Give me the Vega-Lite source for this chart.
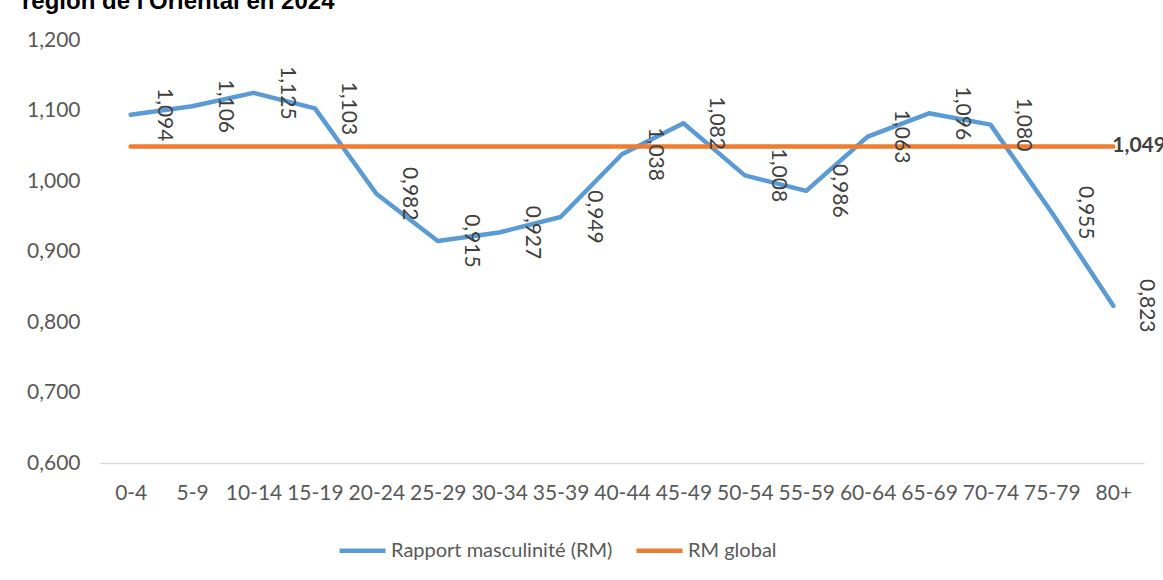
{
  "$schema": "https://vega.github.io/schema/vega-lite/v6.json",
  "width": 1044,
  "height": 423,
  "autosize": {"type": "none"},
  "padding": {"left": 100, "top": 40, "right": 19, "bottom": 117},
  "title": {
    "text": "région de l'Oriental en 2024",
    "anchor": "start",
    "frame": "group",
    "dx": -78,
    "offset": -4,
    "baseline": "alphabetic",
    "font": "Liberation Sans",
    "fontSize": 24,
    "fontWeight": "bold",
    "color": "#000000"
  },
  "data": {
    "values": [
      {"age": "0-4", "serie": "Rapport masculinité (RM)", "value": 1.094},
      {"age": "5-9", "serie": "Rapport masculinité (RM)", "value": 1.106},
      {"age": "10-14", "serie": "Rapport masculinité (RM)", "value": 1.125},
      {"age": "15-19", "serie": "Rapport masculinité (RM)", "value": 1.103},
      {"age": "20-24", "serie": "Rapport masculinité (RM)", "value": 0.982},
      {"age": "25-29", "serie": "Rapport masculinité (RM)", "value": 0.915},
      {"age": "30-34", "serie": "Rapport masculinité (RM)", "value": 0.927},
      {"age": "35-39", "serie": "Rapport masculinité (RM)", "value": 0.949},
      {"age": "40-44", "serie": "Rapport masculinité (RM)", "value": 1.038},
      {"age": "45-49", "serie": "Rapport masculinité (RM)", "value": 1.082},
      {"age": "50-54", "serie": "Rapport masculinité (RM)", "value": 1.008},
      {"age": "55-59", "serie": "Rapport masculinité (RM)", "value": 0.986},
      {"age": "60-64", "serie": "Rapport masculinité (RM)", "value": 1.063},
      {"age": "65-69", "serie": "Rapport masculinité (RM)", "value": 1.096},
      {"age": "70-74", "serie": "Rapport masculinité (RM)", "value": 1.080},
      {"age": "75-79", "serie": "Rapport masculinité (RM)", "value": 0.955},
      {"age": "80+", "serie": "Rapport masculinité (RM)", "value": 0.823},
      {"age": "0-4", "serie": "RM global", "value": 1.049},
      {"age": "5-9", "serie": "RM global", "value": 1.049},
      {"age": "10-14", "serie": "RM global", "value": 1.049},
      {"age": "15-19", "serie": "RM global", "value": 1.049},
      {"age": "20-24", "serie": "RM global", "value": 1.049},
      {"age": "25-29", "serie": "RM global", "value": 1.049},
      {"age": "30-34", "serie": "RM global", "value": 1.049},
      {"age": "35-39", "serie": "RM global", "value": 1.049},
      {"age": "40-44", "serie": "RM global", "value": 1.049},
      {"age": "45-49", "serie": "RM global", "value": 1.049},
      {"age": "50-54", "serie": "RM global", "value": 1.049},
      {"age": "55-59", "serie": "RM global", "value": 1.049},
      {"age": "60-64", "serie": "RM global", "value": 1.049},
      {"age": "65-69", "serie": "RM global", "value": 1.049},
      {"age": "70-74", "serie": "RM global", "value": 1.049},
      {"age": "75-79", "serie": "RM global", "value": 1.049},
      {"age": "80+", "serie": "RM global", "value": 1.049}
    ]
  },
  "encoding": {
    "x": {
      "field": "age",
      "type": "ordinal",
      "sort": null,
      "scale": {"type": "point", "padding": 0.5},
      "axis": {
        "title": null,
        "labelAngle": 0,
        "ticks": false,
        "grid": false,
        "domainColor": "#D9D9D9",
        "domainWidth": 1.5,
        "labelFont": "Lato",
        "labelFontSize": 21,
        "labelColor": "#595959",
        "labelPadding": 19
      }
    },
    "y": {
      "field": "value",
      "type": "quantitative",
      "scale": {"domain": [0.6, 1.2], "nice": false, "zero": false},
      "axis": {
        "title": null,
        "values": [0.6, 0.7, 0.8, 0.9, 1.0, 1.1, 1.2],
        "format": ".3f",
        "grid": false,
        "ticks": false,
        "domain": false,
        "labelFont": "Lato",
        "labelFontSize": 21,
        "labelColor": "#595959",
        "labelPadding": 20
      }
    }
  },
  "layer": [
    {
      "mark": {"type": "line", "strokeWidth": 4.5, "strokeCap": "round", "strokeJoin": "round"},
      "encoding": {
        "color": {
          "field": "serie",
          "type": "nominal",
          "scale": {"domain": ["Rapport masculinité (RM)", "RM global"], "range": ["#5B9BD5", "#ED7D31"]},
          "legend": {
            "title": null,
            "orient": "none",
            "direction": "horizontal",
            "legendX": 237,
            "legendY": 485,
            "symbolType": "stroke",
            "symbolSize": 2116,
            "symbolStrokeWidth": 4.5,
            "labelFont": "Lato",
            "labelFontSize": 20,
            "labelColor": "#595959",
            "labelOffset": 3,
            "labelLimit": 400,
            "columnPadding": 14,
            "padding": 0
          }
        }
      }
    },
    {
      "transform": [{"filter": "datum.serie === 'Rapport masculinité (RM)'"}],
      "mark": {"type": "text", "angle": 90, "dy": -33, "align": "center", "baseline": "middle", "font": "Lato", "fontSize": 21, "color": "#404040"},
      "encoding": {"text": {"field": "value", "type": "quantitative", "format": ".3f"}}
    },
    {
      "transform": [{"filter": "datum.serie === 'RM global' && datum.age === '80+'"}],
      "mark": {"type": "text", "align": "left", "baseline": "middle", "dx": -1, "font": "Lato", "fontSize": 21, "fontWeight": "bold", "color": "#404040"},
      "encoding": {"text": {"field": "value", "type": "quantitative", "format": ".3f"}}
    }
  ],
  "config": {
    "locale": {"number": {"decimal": ",", "thousands": " ", "grouping": [3], "currency": ["", " €"]}},
    "view": {"stroke": null},
    "font": "Lato"
  }
}
